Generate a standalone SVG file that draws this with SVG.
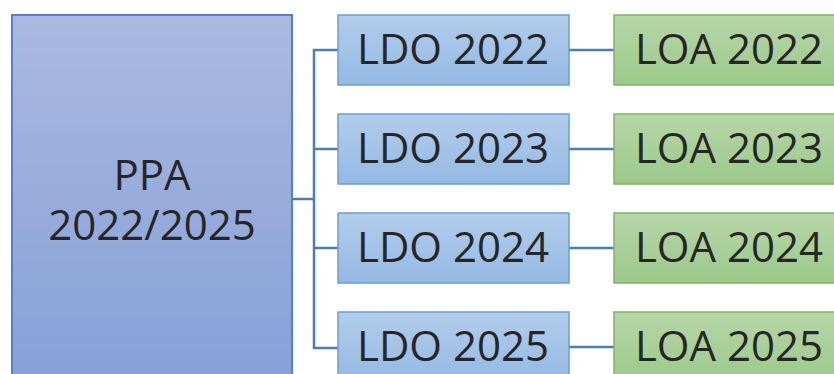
<svg xmlns="http://www.w3.org/2000/svg" width="834" height="374" viewBox="0 0 834 374">
<defs>
<linearGradient id="gP" x1="0" y1="0" x2="0" y2="1"><stop offset="0" stop-color="#AAB9E1"/><stop offset="1" stop-color="#86A0D7"/></linearGradient>
<linearGradient id="gD" x1="0" y1="0" x2="0" y2="1"><stop offset="0" stop-color="#B3CDEB"/><stop offset="1" stop-color="#94B9E4"/></linearGradient>
<linearGradient id="gA" x1="0" y1="0" x2="0" y2="1"><stop offset="0" stop-color="#B7D6A8"/><stop offset="1" stop-color="#9CC98A"/></linearGradient>
<style>
.p{fill:url(#gP);stroke:#5580C8;stroke-width:2}
.d{fill:url(#gD);stroke:#6A9ED3;stroke-width:1.5}
.a{fill:url(#gA);stroke:#7DB55F;stroke-width:1.5}
.t{font-family:"Open Sans","Liberation Sans",sans-serif;font-size:42px;fill:#262626;text-anchor:middle}
.c{fill:none;stroke:#4A7EB5;stroke-width:2.5}
</style>
</defs>
<g id="connectors">
<path class="c" d="M292 199H314M338 50H314V348H338M314 149H338M314 248H338"/>
<path class="c" d="M569 50H614M569 149H614M569 248H614M569 347H614"/>
</g>
<g id="ppa"><rect class="p" x="12" y="15" width="280" height="370"/><text class="t" x="152" y="190">PPA</text><text class="t" x="152" y="240">2022/2025</text></g>
<g id="ldo2022"><rect class="d" x="338" y="15" width="231" height="70"/><text class="t" x="453" y="64">LDO 2022</text></g>
<g id="ldo2023"><rect class="d" x="338" y="114" width="231" height="70"/><text class="t" x="453" y="163">LDO 2023</text></g>
<g id="ldo2024"><rect class="d" x="338" y="213" width="231" height="70"/><text class="t" x="453" y="262">LDO 2024</text></g>
<g id="ldo2025"><rect class="d" x="338" y="312" width="231" height="70"/><text class="t" x="453" y="361">LDO 2025</text></g>
<g id="loa2022"><rect class="a" x="614" y="15" width="240" height="70"/><text class="t" x="729" y="64">LOA 2022</text></g>
<g id="loa2023"><rect class="a" x="614" y="114" width="240" height="70"/><text class="t" x="729" y="163">LOA 2023</text></g>
<g id="loa2024"><rect class="a" x="614" y="213" width="240" height="70"/><text class="t" x="729" y="262">LOA 2024</text></g>
<g id="loa2025"><rect class="a" x="614" y="312" width="240" height="70"/><text class="t" x="729" y="361">LOA 2025</text></g>
</svg>
